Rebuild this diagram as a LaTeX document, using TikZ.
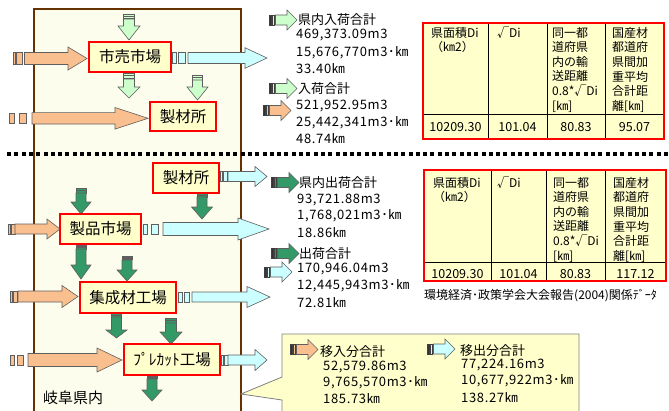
\documentclass[tikz,border=0pt]{standalone}
\usepackage{fontspec}
\setmainfont{Noto Sans CJK JP}
\newfontfamily\numfont[LetterSpace=5]{Noto Sans CJK JP}
\definecolor{cream}{RGB}{253,253,238}
\definecolor{lyel}{RGB}{255,255,204}
\definecolor{brownline}{RGB}{102,51,0}
\definecolor{aorange}{RGB}{250,191,143}
\definecolor{ablue}{RGB}{204,255,255}
\definecolor{algreen}{RGB}{204,255,204}
\definecolor{adgreen}{RGB}{51,153,102}
\definecolor{arrline}{RGB}{95,95,95}
\definecolor{boxred}{RGB}{255,0,0}
\tikzset{
 arr/.style={draw=arrline, line width=0.6pt},
 redbox/.style={draw=boxred, line width=2.7pt, fill=lyel, inner sep=0pt, font=\fontsize{15.5}{18}\selectfont},
 num/.style={anchor=west, inner sep=0pt, font=\fontsize{13}{16}\selectfont},
 numv/.style={anchor=west, inner sep=0pt, font=\fontsize{13}{16}\numfont},
 hd/.style={anchor=north west, inner sep=0pt, align=left, font=\fontsize{12}{14.6}\selectfont},
 cell/.style={inner sep=0pt, font=\fontsize{12.5}{15}\selectfont},
}
% horizontal striped arrow: stripes
\newcommand{\hstripes}[7]{%
 \draw[arr,fill=#1] (#2,#6-#7) rectangle (#3,#6+#7);
 \draw[arr,fill=#1] (#4,#6-#7) rectangle (#5,#6+#7);}
% horizontal body: color, bx, hx, tx, yc, bh, hh
\newcommand{\hbody}[7]{%
 \draw[arr,fill=#1] (#2,#5-#6) -- (#3,#5-#6) -- (#3,#5-#7) -- (#4,#5) -- (#3,#5+#7) -- (#3,#5+#6) -- (#2,#5+#6) -- cycle;}
% vertical stripes: color, xc, bw, y1,y2,y3,y4
\newcommand{\vstripes}[7]{%
 \draw[arr,fill=#1] (#2-#3,#4) rectangle (#2+#3,#5);
 \draw[arr,fill=#1] (#2-#3,#6) rectangle (#2+#3,#7);}
% vertical body: color, xc, by, hy, ty, bw, hw
\newcommand{\vbody}[7]{%
 \draw[arr,fill=#1] (#2-#6,#3) -- (#2-#6,#4) -- (#2-#7,#4) -- (#2,#5) -- (#2+#7,#4) -- (#2+#6,#4) -- (#2+#6,#3) -- cycle;}
% small icon: color, x0, yc
\newcommand{\smallicon}[3]{%
 \draw[draw=black!75,line width=0.5pt,fill=black!80] (#2,#3-5) rectangle (#2+2.5,#3+5);
 \draw[draw=black!75,line width=0.5pt,fill=#1] (#2+3.5,#3-5) rectangle (#2+5.5,#3+5);
 \draw[arr,fill=#1] (#2+6.5,#3-5) -- (#2+18,#3-5) -- (#2+18,#3-10) -- (#2+28,#3) -- (#2+18,#3+10) -- (#2+18,#3+5) -- (#2+6.5,#3+5) -- cycle;}
\begin{document}
\begin{tikzpicture}[x=1pt,y=-1pt]
\useasboundingbox (0,0) rectangle (669,410);
\fill[white] (0,0) rectangle (669,410);
% main region
\fill[cream] (34,9) rectangle (241,412);
\draw[brownline,line width=2pt] (34,412) -- (34,9) -- (241,9) -- (241,412);
% callout
\draw[fill=lyel,draw=black!50,line width=0.8pt] (282,412) -- (282,400) -- (241,394) -- (282,377) -- (282,334) -- (579,334) -- (579,412);
% ---------- top section arrows ----------
\hstripes{aorange}{13}{15}{16.5}{22}{58.5}{6}
\hbody{aorange}{24.5}{68}{87}{58.5}{6}{11.5}
\hstripes{ablue}{172}{176}{178}{185}{58}{5.5}
\hbody{ablue}{188}{245}{267}{58}{5.5}{10.3}
\vstripes{algreen}{129}{5.5}{14}{16}{16.5}{18.5}
\vbody{algreen}{129}{19}{26}{40}{5.5}{11}
\vstripes{algreen}{129}{5.5}{73}{75}{75.5}{78}
\vbody{algreen}{129}{79}{87}{98}{5.5}{11}
\vstripes{algreen}{197.5}{5}{75}{77}{77.5}{80}
\vbody{algreen}{197.5}{80}{87}{100}{5}{10.5}
\hstripes{aorange}{9}{14}{19}{26}{118.3}{5}
\hbody{aorange}{32}{115}{148}{118.3}{5.7}{10.8}
% ---------- divider ----------
\draw[black,line width=4pt,dash pattern=on 4pt off 3.3pt] (7,154) -- (669,154);
% ---------- bottom section arrows ----------
\hstripes{ablue}{220}{222}{223}{227}{176.5}{5}
\hbody{ablue}{228}{255}{267}{176.5}{5}{10}
\vstripes{adgreen}{81}{5}{188}{190}{190.5}{193}
\vbody{adgreen}{81}{193}{202}{214}{5}{10}
\vstripes{adgreen}{202}{5}{193}{195}{195.5}{197}
\vbody{adgreen}{202}{197}{207}{219}{5}{10.5}
\hstripes{aorange}{8}{10}{11}{15}{229}{5}
\hbody{aorange}{15}{47}{60}{229}{5}{10}
\hstripes{ablue}{143}{147}{151}{158}{229}{5}
\hbody{ablue}{163}{238}{269}{229}{6.5}{11}
\vstripes{adgreen}{81}{5}{245}{246.5}{247}{249}
\vbody{adgreen}{81}{249}{265}{279}{5}{10}
\vstripes{adgreen}{127}{5}{256}{257.5}{258}{259.5}
\vbody{adgreen}{127}{260}{270}{281}{5}{10}
\hstripes{aorange}{10}{12}{13}{17}{296.5}{5.5}
\hbody{aorange}{18}{62}{78}{296.5}{5.5}{11}
\hstripes{ablue}{178}{182}{184}{189}{297}{5}
\hbody{ablue}{192}{247}{270}{297}{5}{10.5}
\vstripes{adgreen}{116.5}{5}{313}{315}{315.5}{317}
\vbody{adgreen}{116.5}{317}{330}{338}{5}{10.5}
\vstripes{adgreen}{171}{5.5}{318}{320}{320.5}{323}
\vbody{adgreen}{171}{323}{332}{344}{5.5}{11}
\hstripes{aorange}{10}{14}{17}{23}{360}{5}
\hbody{aorange}{28}{97}{122}{360}{6.5}{12}
\hstripes{ablue}{221}{223}{224}{228}{360}{5}
\hbody{ablue}{228}{255}{267}{360}{5}{10.5}
\vstripes{adgreen}{152}{5}{375}{376.5}{377}{378.5}
\vbody{adgreen}{152}{379}{390}{401}{5}{10}
% ---------- red boxes ----------
\node[redbox,minimum width=82pt,minimum height=30pt] (ichiba) at (130,57) {市売市場};
\node[redbox,minimum width=66pt,minimum height=29pt] (seizai1) at (183,116.5) {製材所};
\node[redbox,minimum width=66pt,minimum height=30pt] (seizai2) at (186,178) {製材所};
\node[redbox,minimum width=81pt,minimum height=30pt] (seihin) at (100.5,229) {製品市場};
\node[redbox,minimum width=96pt,minimum height=31pt] (shusei) at (128,297.5) {集成材工場};
\node[redbox,minimum width=96pt,minimum height=31pt] (precut) at (172,359.5) {ﾌﾟﾚｶｯﾄ工場};
\node[anchor=west,inner sep=0pt,font=\fontsize{15}{18}\selectfont] (gifu) at (43,398) {岐阜県内};
% ---------- right text groups ----------
\smallicon{algreen}{269}{20}
\node[num] (g1h) at (298,20) {県内入荷合計};
\node[numv] (g1a) at (296,35.5) {469,373.09m3};
\node[numv] (g1b) at (296,52.5) {15,676,770m3･㎞};
\node[numv] (g1c) at (296,69) {33.40㎞};
\smallicon{algreen}{269}{88.5}
\node[num] (g2h) at (298,89) {入荷合計};
\smallicon{aorange}{263}{110.5}
\node[numv] (g2a) at (296,106) {521,952.95m3};
\node[numv] (g2b) at (296,122.5) {25,442,341m3･㎞};
\node[numv] (g2c) at (296,139) {48.74㎞};
\smallicon{adgreen}{271}{182.5}
\node[num] (g3h) at (299,183) {県内出荷合計};
\node[numv] (g3a) at (297,200) {93,721.88m3};
\node[numv] (g3b) at (297,216) {1,768,021m3･㎞};
\node[numv] (g3c) at (297,233) {18.86㎞};
\smallicon{adgreen}{271}{253.5}
\node[num] (g4h) at (299,254) {出荷合計};
\smallicon{ablue}{264}{272}
\node[numv] (g4a) at (297,269) {170,946.04m3};
\node[numv] (g4b) at (297,286) {12,445,943m3･㎞};
\node[numv] (g4c) at (297,303) {72.81㎞};
% callout content
\smallicon{aorange}{290}{349.5}
\node[num] (c1h) at (320,352) {移入分合計};
\node[numv] (c1a) at (323,367) {52,579.86m3};
\node[numv] (c1b) at (323,383) {9,765,570m3･㎞};
\node[numv] (c1c) at (323,399) {185.73㎞};
\smallicon{ablue}{427}{349}
\node[num] (c2h) at (460,351) {移出分合計};
\node[numv] (c2a) at (461,365) {77,224.16m3};
\node[numv] (c2b) at (461,381) {10,677,922m3･㎞};
\node[numv] (c2c) at (461,398) {138.27㎞};
% ---------- tables ----------
\fill[lyel] (423,23) rectangle (664,139);
\draw[black,line width=0.8pt] (423,114) -- (664,114) (488,23) -- (488,139) (547,23) -- (547,139) (605,23) -- (605,139);
\draw[boxred,line width=2.7pt] (423,23) rectangle (664,139);
\node[hd] (t1h1) at (431,27) {県面積Di\\（㎞2）};
\node[hd] (t1h2) at (497,27) {√Di};
\node[hd] (t1h3) at (552,27) {同一都\\道府県\\内の輸\\送距離\\0.8*√Di\\{}[㎞]};
\node[hd] (t1h4) at (612,27) {国産材\\都道府\\県間加\\重平均\\合計距\\離[㎞]};
\node[cell] (t1d1) at (455.5,127.5) {10209.30};
\node[cell] (t1d2) at (517.5,127.5) {101.04};
\node[cell] (t1d3) at (576,127.5) {80.83};
\node[cell] (t1d4) at (634.5,127.5) {95.07};
\fill[lyel] (424,170) rectangle (666,281);
\draw[black,line width=0.8pt] (424,262) -- (666,262) (491,170) -- (491,281) (546,170) -- (546,281) (605,170) -- (605,281);
\draw[boxred,line width=2.7pt] (424,170) rectangle (666,281);
\node[hd] (t2h1) at (433,177) {県面積Di\\（㎞2）};
\node[hd] (t2h2) at (497,177) {√Di};
\node[hd] (t2h3) at (553,177) {同一都\\道府県\\内の輸\\送距離\\0.8*√Di\\{}[㎞]};
\node[hd] (t2h4) at (613,177) {国産材\\都道府\\県間加\\重平均\\合計距\\離[㎞]};
\node[cell] (t2d1) at (457.5,274.5) {10209.30};
\node[cell] (t2d2) at (518.5,274.5) {101.04};
\node[cell] (t2d3) at (575.5,274.5) {80.83};
\node[cell] (t2d4) at (635.5,274.5) {117.12};
\node[anchor=west,inner sep=0pt,font=\fontsize{12}{14}\selectfont] (src) at (424,296) {環境経済･政策学会大会報告(2004)関係ﾃﾞｰﾀ};
\end{tikzpicture}
\end{document}
